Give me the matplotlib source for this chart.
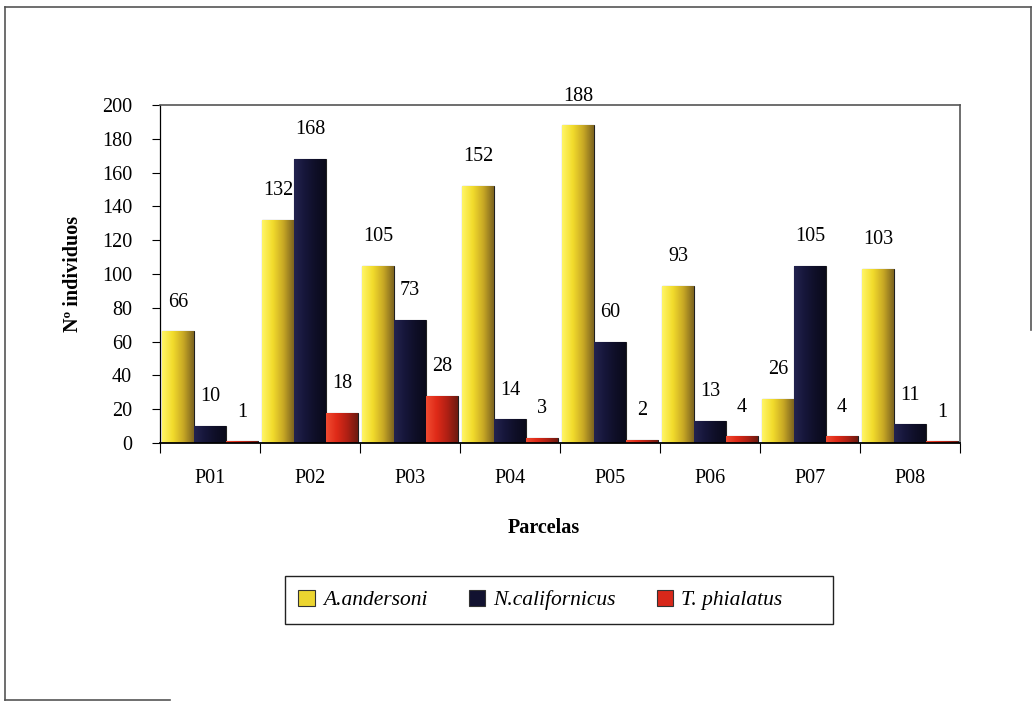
import numpy as np
import matplotlib
matplotlib.use("Agg")
import matplotlib.pyplot as plt
from matplotlib.colors import LinearSegmentedColormap
from matplotlib.patches import Patch, Rectangle
from matplotlib.lines import Line2D

plt.rcParams['font.family'] = ['Liberation Serif', 'DejaVu Serif']

parcelas = ["P01", "P02", "P03", "P04", "P05", "P06", "P07", "P08"]
especies = ["A.andersoni", "N.californicus", "T. phialatus"]
a_andersoni = [66, 132, 105, 152, 188, 93, 26, 103]
n_californicus = [10, 168, 73, 14, 60, 13, 105, 11]
t_phialatus = [1, 18, 28, 3, 2, 4, 4, 1]

# left -> right shading for each series (cylinder look)
shades = [
    ["#fff566", "#f2dc2c", "#c9a925", "#7d6420"],
    ["#23234f", "#16163a", "#0f0f28", "#0a0a1a"],
    ["#f04a30", "#df2a18", "#b02014", "#6e1a10"],
]
solid = ["#ecd530", "#121230", "#d8281a"]
FS = 14.5


def shade_bars(ax, bars, colors):
    cmap = LinearSegmentedColormap.from_list("s", colors)
    grad = np.linspace(0, 1, 64).reshape(1, -1)
    for b in bars:
        x, y = b.get_x(), b.get_y()
        w, h = b.get_width(), b.get_height()
        im = ax.imshow(grad, cmap=cmap, extent=(x, x + w, y, y + h),
                       aspect="auto", interpolation="bicubic", zorder=2.5)
        im.set_clip_path(b)


fig = plt.figure(figsize=(10.33, 7.01), dpi=100)
ax = fig.add_axes([160 / 1033, 1 - 443 / 701, 800 / 1033, 338 / 701])

series = [a_andersoni, n_californicus, t_phialatus]
x = np.arange(len(parcelas)) + 0.5
width = 0.32
for i, vals in enumerate(series):
    pos = x + (i - 1) * width
    bars = ax.bar(pos, vals, width, color=solid[i], edgecolor="#202020",
                  linewidth=0.8, zorder=2)
    shade_bars(ax, bars, shades[i])
    for px, v in zip(pos, vals):
        ax.annotate(str(v), (px, v), xytext=(0, 21), textcoords="offset points",
                    ha="center", va="center", fontsize=FS, annotation_clip=False)

ax.set_xlim(0, 8)
ax.set_ylim(0, 200)
ax.set_yticks(np.arange(0, 201, 20))
ax.set_xticks(x)
ax.set_xticklabels(parcelas)
ax.set_xticks(np.arange(0, 9), minor=True)
ax.tick_params(axis="x", which="major", length=0, pad=19, labelsize=FS)
ax.tick_params(axis="x", which="minor", length=7, direction="out", width=0.8)
ax.tick_params(axis="y", length=6, direction="out", width=0.8, labelsize=FS, pad=14)

for side in ["top", "right"]:
    ax.spines[side].set_color("#555555")
    ax.spines[side].set_linewidth(1.2)
ax.spines["left"].set_linewidth(0.9)
ax.spines["bottom"].set_linewidth(1.3)

ax.set_xlabel("Parcelas", fontsize=FS, fontweight="bold")
ax.xaxis.set_label_coords(0.48, -0.222)
ax.set_ylabel("Nº individuos", fontsize=FS, fontweight="bold")
ax.yaxis.set_label_coords(-0.096, 0.5)

# legend box
fig.add_artist(Rectangle((285 / 1033, 1 - 624 / 701), 548 / 1033, 48 / 701,
                         transform=fig.transFigure, fill=False,
                         edgecolor="#222222", linewidth=1.0))
handles = [Patch(facecolor=solid[i], edgecolor="#333333", linewidth=0.8)
           for i in range(3)]
leg = fig.legend(handles, especies, ncol=3, loc="center left",
                 bbox_to_anchor=(279 / 1033, 1 - 600 / 701),
                 prop={"style": "italic", "size": 15.5}, handlelength=0.75, handleheight=0.75,
                 handletextpad=0.4, columnspacing=1.9, frameon=False, borderpad=0.4)

# outer frame of the chart area
frame = dict(color="#555555", linewidth=1.2, transform=fig.transFigure)
fig.add_artist(Line2D([5 / 1033, 5 / 1033], [1 - 7 / 701, 1 - 700 / 701], **frame))
fig.add_artist(Line2D([5 / 1033, 1031 / 1033], [1 - 7 / 701, 1 - 7 / 701], **frame))
fig.add_artist(Line2D([1031 / 1033, 1031 / 1033], [1 - 7 / 701, 1 - 330 / 701], **frame))
fig.add_artist(Line2D([5 / 1033, 170 / 1033], [1 - 700 / 701, 1 - 700 / 701], **frame))

fig.savefig("out.png", dpi=100)
